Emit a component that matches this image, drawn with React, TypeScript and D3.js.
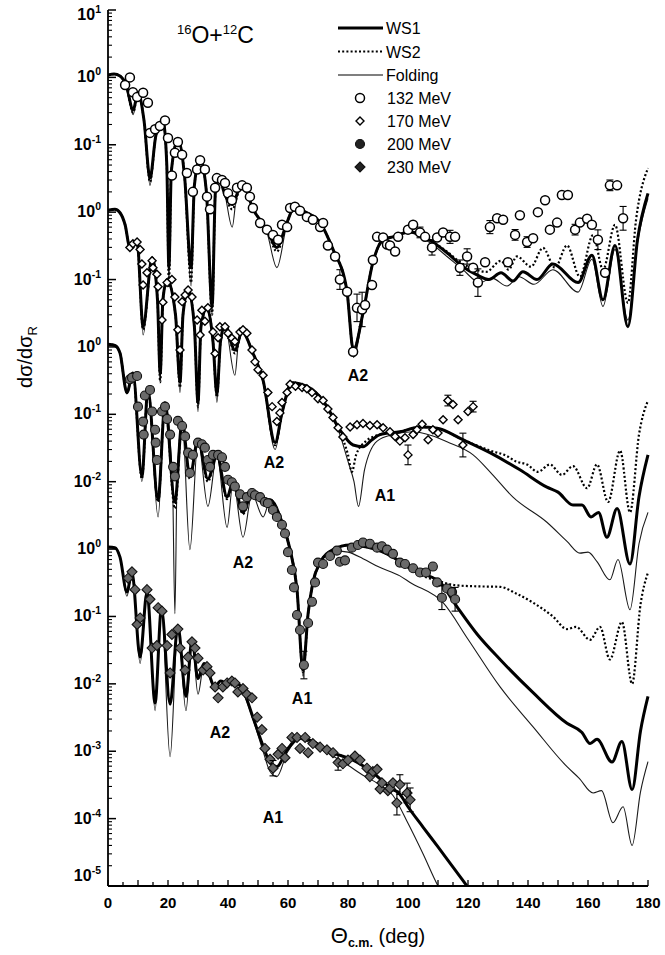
import React from "react";
import * as d3 from "d3";

type Pt = [number, number];
type Obs = number[];

// ---------- data (true dσ/dσR values; each energy is shifted by DECADE_SHIFTS when plotted) ----------
const ENERGY_LABELS = ["132 MeV", "170 MeV", "200 MeV", "230 MeV"];
const DECADE_SHIFTS = [0, -2, -4, -7];
const MODEL_LABELS = ["WS1", "WS2", "Folding"];
const Y_TICK_EXPONENTS = [1, 0, -1, 0, -1, 0, -1, -2, 0, -1, -2, -3, -4, -5];
const X_TICKS = [0, 20, 40, 60, 80, 100, 120, 140, 160, 180];

const WS1_132: Pt[] = [[0,1.08],[2,1.12],[4,1.05],[6,0.78],[8.4,0.33],[10,0.59],[12,0.23],[14,0.032],[16,0.14],[18.4,0.22],[19.6,0.05],[20.3,1.5e-3],[21.1,0.04],[23.3,0.12],[25.5,0.035],[27.7,1.5e-3],[28.8,0.025],[30.7,0.063],[32.8,0.02],[34.7,4e-4],[35.8,0.02],[36.9,0.033],[39,0.018],[41.4,0.013],[44.7,0.027],[48.4,0.011],[53,5.5e-3],[56.3,3e-3],[59.6,6.9e-3],[62,0.0115],[66.3,9.8e-3],[70.7,7e-3],[75,2.8e-3],[79.6,7e-4],[81.8,9e-5],[85,3.2e-4],[88.3,1.8e-3],[91.7,3.9e-3],[95,4.3e-3],[100.7,5.1e-3],[107,3.9e-3],[113,2.5e-3],[118.3,1.55e-3],[123,1.17e-3],[127,1.0e-3],[131,1.26e-3],[135,9.5e-4],[138.3,1.3e-3],[143,1.0e-3],[148.3,1.7e-3],[156.7,9e-4],[161.3,2.3e-3],[165,5e-4],[169,3.2e-3],[173.3,2e-4],[176.5,3.9e-3],[180,0.019]];
const WS2_132: Pt[] = [[0,1.08],[2,1.12],[4,1.05],[6,0.78],[8.4,0.3],[10,0.59],[12,0.23],[14,0.028],[16,0.14],[18.4,0.22],[19.6,0.05],[20.3,8e-4],[21.1,0.04],[23.3,0.12],[25.5,0.035],[27.7,9e-4],[28.8,0.025],[30.7,0.063],[32.8,0.02],[34.7,3e-4],[35.8,0.02],[36.9,0.033],[39,0.018],[41.4,0.011],[44.7,0.027],[48.4,0.011],[53,5.5e-3],[56.3,2.6e-3],[59.6,6.9e-3],[62,0.0115],[66.3,9.8e-3],[70.7,7e-3],[75,2.8e-3],[79.6,7e-4],[81.8,9e-5],[85,3.2e-4],[88.3,1.8e-3],[91.7,3.9e-3],[95,4.3e-3],[100.7,5.1e-3],[107,3.9e-3],[113,2.6e-3],[118.3,1.7e-3],[121,1.5e-3],[126,1.3e-3],[131,1.9e-3],[133.5,1.4e-3],[136.3,2.2e-3],[141,1.55e-3],[145,2.95e-3],[149,1.5e-3],[153,3.2e-3],[157.3,1.1e-3],[161.7,4.6e-3],[165,1.4e-3],[169,6.5e-3],[173.3,4.5e-4],[176,7.6e-3],[180,0.045]];
const FOLD_132: Pt[] = [[0,1.08],[2,1.12],[4,1.05],[6,0.78],[8.4,0.28],[10,0.59],[12,0.23],[14,0.025],[16,0.14],[18.4,0.22],[19.6,0.05],[20.3,9e-4],[21.1,0.04],[23.3,0.12],[25.5,0.035],[27.7,8e-4],[28.8,0.025],[30.7,0.063],[32.8,0.02],[34.7,3e-4],[35.8,0.02],[36.9,0.033],[39,0.018],[41.4,6e-3],[43,0.02],[44.7,0.027],[48.4,0.011],[53,5e-3],[56.3,1.5e-3],[59.6,6.5e-3],[62,0.011],[66.3,9.5e-3],[70.7,6.8e-3],[75,2.7e-3],[79.6,6.5e-4],[81.8,7e-5],[85,3e-4],[88.3,1.7e-3],[91.7,3.7e-3],[95,4.2e-3],[100.7,4.9e-3],[107,3.6e-3],[113,2.2e-3],[118.3,1.4e-3],[124,9e-4],[128,1.05e-3],[133,8e-4],[137,1.1e-3],[142,8.5e-4],[148.3,1.4e-3],[156.7,6.5e-4],[161.3,2e-3],[165,4e-4],[169,2.8e-3],[173.3,2.5e-4],[176.5,3.5e-3],[180,0.016]];

const WS1_170: Pt[] = [[0,1.07],[2.3,1.1],[4,0.98],[5.7,0.65],[7.3,0.3],[9.7,0.36],[11.7,0.02],[14.7,0.21],[16.5,0.05],[17.4,4e-3],[18.3,0.05],[19.7,0.1],[22.5,0.03],[24,3e-3],[25,0.03],[26.7,0.071],[28.8,0.02],[30,1.5e-3],[31,0.02],[33,0.038],[35,0.012],[36.3,2e-3],[37.5,0.012],[39,0.021],[42.3,9e-3],[44.7,0.0166],[48.3,8.1e-3],[51.7,3.2e-3],[55.7,3.8e-4],[58,1.05e-3],[61.3,2.95e-3],[66.3,2.6e-3],[71.7,1.6e-3],[77.3,5.9e-4],[81.7,3.5e-4],[85,3.3e-4],[88,4.2e-4],[90.7,5e-4],[97.3,5.5e-4],[104,6.5e-4],[109.7,6.2e-4],[118.3,4.2e-4],[127.3,2.7e-4],[137.3,1.5e-4],[146.3,8.3e-5],[150,7e-5],[155,4.5e-5],[158,4.5e-5],[161,3e-5],[163.5,3.5e-5],[166.3,1.5e-5],[169.7,4e-5],[174,6e-6],[177,6e-5],[180,2.5e-4]];
const WS2_170: Pt[] = [[0,1.07],[2.3,1.1],[4,0.98],[5.7,0.65],[7.3,0.3],[9.7,0.36],[11.7,0.018],[14.7,0.21],[16.5,0.05],[17.4,3e-3],[18.3,0.05],[19.7,0.1],[22.5,0.03],[24,2.5e-3],[25,0.03],[26.7,0.071],[28.8,0.02],[30,1.3e-3],[31,0.02],[33,0.038],[35,0.012],[36.3,1.8e-3],[37.5,0.012],[39,0.021],[42.3,8e-3],[44.7,0.0166],[48.3,8.1e-3],[51.7,3.2e-3],[55.7,3.5e-4],[58,1.05e-3],[61.3,2.95e-3],[66.3,2.6e-3],[71.7,1.6e-3],[77.3,5.5e-4],[80,2.5e-4],[81.3,1.4e-4],[82.7,2.5e-4],[86,4e-4],[90.7,5e-4],[97.3,5.5e-4],[104,6.5e-4],[109.7,6.2e-4],[118.3,4.2e-4],[127.3,2.9e-4],[133,2.4e-4],[136,2e-4],[139.7,1.8e-4],[143.3,1.4e-4],[147.3,1.8e-4],[151.3,1.26e-4],[155,1.7e-4],[159.7,8e-5],[163,1.8e-4],[166.7,5e-5],[170.7,2.9e-4],[174,3.5e-5],[177,5e-4],[180,1.6e-3]];
const FOLD_170: Pt[] = [[0,1.07],[2.3,1.1],[4,0.98],[5.7,0.65],[7.3,0.28],[9.7,0.36],[11.7,0.015],[14.7,0.21],[16.5,0.05],[17.4,3e-3],[18.3,0.05],[19.7,0.1],[22.5,0.03],[24,2.1e-3],[25,0.03],[26.7,0.071],[28.8,0.02],[30,1.1e-3],[31,0.02],[33,0.038],[35,0.012],[36.3,1.5e-3],[37.5,0.012],[39,0.021],[42.3,3.8e-3],[43.5,0.012],[44.7,0.0166],[48.3,8e-3],[51.7,3e-3],[55.7,3e-4],[58,1e-3],[61.3,2.9e-3],[66.3,2.5e-3],[71.7,1.5e-3],[77.3,5e-4],[80,2e-4],[82,1e-4],[83.5,4.3e-5],[85.5,1.5e-4],[89.7,4e-4],[95,5e-4],[101.7,5.5e-4],[108,4.8e-4],[113,3.9e-4],[121.7,2.5e-4],[128,1.3e-4],[135,5.9e-5],[146.3,2.5e-5],[153,1.3e-5],[157.3,8.7e-6],[160,9e-6],[163,6.5e-6],[167.3,3.5e-6],[170,7e-6],[174,1.26e-6],[177,1.2e-5],[180,3.5e-5]];

const WS1_200: Pt[] = [[0,1.1],[2.3,1.05],[4,0.81],[6.3,0.21],[8.3,0.41],[11.3,0.012],[13.3,0.23],[16.7,5.4e-3],[19,0.148],[22.3,5e-3],[24.7,0.078],[27.3,0.012],[30,0.042],[33.3,0.011],[36.3,0.025],[39.7,5.9e-3],[41.7,0.01],[45,3.5e-3],[48,6.7e-3],[51.7,4.9e-3],[54,5.4e-3],[58,2.5e-3],[60.7,9.8e-4],[63,2.5e-4],[65,1.6e-5],[66.7,1.1e-4],[68.3,3.2e-4],[70.7,6.3e-4],[75,9.8e-4],[80.7,1.15e-3],[86.3,1.07e-3],[95,7.6e-4],[99.7,5.5e-4],[105,4.3e-4],[110.7,3.2e-4],[116.3,1.4e-4],[123,5.5e-5],[130.7,2.3e-5],[141.7,7.4e-6],[153,2.6e-6],[158,1.9e-6],[160.7,1.3e-6],[163,1.5e-6],[168,6.9e-7],[171.3,1.4e-6],[174.7,2.7e-7],[177.5,2e-6],[180,6.5e-6]];
const WS2_200: Pt[] = [[0,1.1],[2.3,1.05],[4,0.81],[6.3,0.21],[8.3,0.41],[11.3,0.011],[13.3,0.23],[16.7,5e-3],[19,0.148],[22.3,4e-3],[24.7,0.078],[27.3,0.011],[30,0.042],[33.3,0.01],[36.3,0.025],[39.7,5.5e-3],[41.7,0.01],[45,3.3e-3],[48,6.7e-3],[51.7,4.9e-3],[54,5.4e-3],[58,2.5e-3],[60.7,9.8e-4],[63,2.5e-4],[65,1.5e-5],[66.7,1.1e-4],[68.3,3.2e-4],[70.7,6.3e-4],[75,9.8e-4],[80.7,1.15e-3],[86.3,1.07e-3],[95,7.6e-4],[99.7,5.5e-4],[105,4.0e-4],[110.7,3.3e-4],[116,2.9e-4],[123,2.8e-4],[130.7,2.75e-4],[136,2.2e-4],[141.7,1.6e-4],[148.3,1e-4],[153,6.5e-5],[156,7e-5],[160.7,4.5e-5],[164,7e-5],[167.3,2.3e-5],[171.3,8.3e-5],[174.7,1e-5],[177.5,1.5e-4],[180,4.5e-4]];
const FOLD_200: Pt[] = [[0,1.1],[2.3,1.05],[4,0.81],[6.3,0.2],[8.3,0.41],[11.3,0.01],[13.3,0.23],[16.7,3e-3],[19,0.148],[21.5,0.01],[22.3,1.1e-4],[23,0.01],[24.7,0.078],[27.3,9.8e-4],[30,0.042],[33.3,4.3e-3],[36.3,0.025],[39.7,2.1e-3],[41.7,0.01],[45,1.5e-3],[48,6.5e-3],[51.7,3e-3],[54,5.2e-3],[58,2.4e-3],[60.7,9e-4],[63,2.2e-4],[65,1.3e-5],[66.7,1e-4],[68.3,3e-4],[70.7,6e-4],[75,9.5e-4],[80,9e-4],[85,7.2e-4],[90,5.5e-4],[97.3,4e-4],[100.7,3.2e-4],[111.7,1.6e-4],[120,4.6e-5],[130.7,9e-6],[141.7,2.3e-6],[153,5.9e-7],[157,4e-7],[161.7,2.4e-7],[164.5,2.6e-7],[168.3,8.7e-8],[171.7,1.5e-7],[174.7,4e-8],[177.5,2.5e-7],[180,7e-7]];

const WS1_230: Pt[] = [[0,1.07],[2.3,1.05],[4,0.76],[6.3,0.23],[8,0.45],[10.7,0.025],[13,0.23],[15.7,5.2e-3],[17.8,0.13],[20.7,5e-3],[23.3,0.071],[26,6.5e-3],[28,0.045],[30,0.012],[32,0.02],[35.7,9e-3],[37.5,0.011],[39.7,0.0103],[41.7,0.011],[45,8.1e-3],[48.3,3.2e-3],[51.7,1.2e-3],[54,6.8e-4],[56.3,5.9e-4],[59.7,1.05e-3],[64,1.6e-3],[69.7,1.3e-3],[75,9.5e-4],[81.7,7.4e-4],[88.3,4.8e-4],[94,2.9e-4],[97.3,2.3e-4],[100,1.5e-4],[105,7.5e-5],[110,3.8e-5],[115,1.9e-5],[120,9.5e-6],[122,7e-6]];
const FOLD_230: Pt[] = [[0,1.07],[2.3,1.05],[4,0.76],[6.3,0.2],[8,0.45],[10.7,0.02],[13,0.23],[15.7,4e-3],[17.8,0.13],[20.7,8.3e-4],[23.3,0.071],[26,4e-3],[28,0.045],[30,7e-3],[32,0.02],[35.7,8e-3],[37.5,0.011],[39.7,0.01],[41.7,0.011],[45,7.5e-3],[48.3,3e-3],[51.7,1e-3],[54,5e-4],[56.3,4.2e-4],[59.7,9.5e-4],[64,1.5e-3],[70,1.15e-3],[75,8.5e-4],[80,6.2e-4],[85,4.4e-4],[90,3.3e-4],[95,2.2e-4],[100,8.5e-5],[105,3e-5],[110,1e-5],[112,7e-6]];

// measured points: [angle, value, optional error factor]
const DATA_132: Obs[] = [[5.7,0.77],[7.3,1.0],[8.3,0.6],[9.7,0.51],[11.7,0.59],[13.3,0.42],[14,0.15],[15.7,0.17],[17.3,0.19],[19,0.23],[20,0.126],[21.3,0.035],[22.3,0.076],[23.3,0.11],[24.7,0.071],[26.3,0.038],[28.3,0.02],[29.7,0.043],[30.7,0.059],[32.3,0.043],[33,0.017],[34,0.011],[35.7,0.023],[36.3,0.032],[38,0.03],[39,0.027],[40,0.019],[41.3,0.015],[43,0.023],[44.7,0.025],[46.3,0.023],[47.3,0.017],[48.3,0.0115],[50.7,6.9e-3],[53,5.5e-3],[55,4.6e-3],[56.7,3.9e-3],[58,6.5e-3],[59.7,6e-3],[60.7,0.0115],[62.3,0.012],[64,0.0105],[66.3,8.5e-3],[68.3,7.7e-3],[70.7,6e-3],[71.7,6.9e-3],[73.3,3.2e-3],[75.7,2.2e-3],[77.3,1e-3,1.4],[79.7,6.6e-4],[81.7,8.5e-5],[83,3.8e-4,1.6],[84.7,3.6e-4,1.8],[85.7,4.2e-4],[88,8.3e-4],[88.3,1.95e-3],[89.7,4.3e-3],[91.7,4.2e-3],[93,3.3e-3],[94,3.2e-3],[95.7,2.6e-3],[96.7,4.3e-3],[100,5.5e-3],[101.7,6.5e-3],[104,5e-3,1.2],[105.7,4.3e-3],[108,3e-3,1.3],[109.7,4.2e-3],[111.7,5e-3],[114,4.3e-3,1.25],[115.7,4.3e-3],[117.3,1.5e-3,1.3],[119.7,2.2e-3,1.3],[121.7,1.5e-3],[123.3,9e-4,1.6],[125.7,1.8e-3],[127.3,6e-3,1.25],[129.7,8.1e-3],[131.7,7.7e-3],[133.3,1.8e-3],[135.7,4.6e-3,1.2],[137.3,9e-3],[139.7,3.6e-3,1.2],[141.7,4.1e-3],[143.3,0.01],[145.7,0.015],[147.3,5.5e-3],[149.7,7e-3],[151.3,0.018],[153.3,0.018],[155.7,5.5e-3,1.2],[157.3,7e-3],[159.7,8e-3],[161.3,6.5e-3],[163.3,3.9e-3,1.4],[165.7,1.26e-3],[167.3,0.025,1.2],[169.7,0.025],[171.7,8.1e-3,1.5]];
const DATA_170: Obs[] = [[7.3,0.3],[8.3,0.34],[9.7,0.36],[10.7,0.28],[11.3,0.17],[11.7,0.083],[13,0.126],[14.7,0.19],[15,0.15],[16.3,0.12],[16.7,0.078],[18,0.025],[18.3,0.046],[19.7,0.09],[21.3,0.1],[22.3,0.055],[23.3,0.018],[24,9e-3],[24.7,0.047],[25.7,0.059],[26.7,0.07],[28,0.055],[29.7,0.025],[30.7,0.015],[31.3,0.035],[32.3,0.024],[33.3,0.038],[35,0.0166],[35.7,8e-3],[36.7,0.0137],[37.3,0.02],[39,0.02],[40,0.016],[41.3,0.0135],[42.3,0.012],[44,0.0166],[45,0.018],[46.3,0.016],[48,9e-3],[49,6e-3],[50,4.6e-3],[51.7,3.8e-3],[53.3,2.1e-3],[54.7,1.3e-3],[56.3,7.8e-4],[57.3,1.05e-3],[58,1.5e-3],[59.7,2.1e-3],[60.7,2.8e-3],[62.5,2.6e-3],[64.7,2.5e-3],[66.3,2.4e-3],[68,2.1e-3],[70,1.7e-3],[71.7,1.6e-3],[73.3,1.2e-3],[75,9e-4],[76.7,6.3e-4],[78.3,4.6e-4],[80.7,6.5e-4],[83,7e-4],[85,7.3e-4],[87.3,6.8e-4],[89.7,7e-4],[91.7,6.3e-4],[94,5.5e-4],[95.7,4.7e-4],[97.3,4e-4],[99,4.5e-4],[100,2.5e-4,1.4],[101.7,5e-4],[103,5.9e-4],[104.7,7.1e-4],[106.7,4.2e-4],[108.3,5.9e-4],[110,5.3e-4],[111.7,8.3e-4],[113.3,1.6e-3,1.2],[115,1.4e-3],[116.7,8.3e-4],[118.3,3.5e-4,1.5],[120,1.1e-3],[121.7,1.3e-3,1.2]];
const DATA_200: Obs[] = [[7.3,0.33],[8,0.35],[9.7,0.37],[10,0.13],[11.7,0.078],[11.9,0.05],[12.3,0.19],[14,0.23],[14.7,0.11],[15.7,0.059],[15.9,0.038],[16.3,0.021],[18,0.11],[19,0.13],[19.7,0.085],[20.7,0.05],[21.7,0.0166],[22.3,0.012],[23.3,0.08],[24.7,0.067],[25.7,0.047],[26.7,0.027],[27.3,0.0135],[28.3,0.025],[30,0.038],[31.3,0.036],[32.3,0.032],[33.3,0.021],[34,0.0166],[35,0.025],[36.7,0.025],[38,0.023],[39,0.0166],[40,0.0107],[41.3,9.8e-3],[42.3,8.5e-3],[44,6.5e-3],[45,4.3e-3],[46.3,5.9e-3],[48,6.8e-3],[49,6.3e-3],[50.7,5.9e-3],[52.3,5e-3],[53.3,4.8e-3],[55,3.8e-3],[56.3,3e-3],[58,2.3e-3],[59,1.7e-3],[60,9e-4],[61.3,4.9e-4],[62,2.7e-4],[63,1.05e-4],[64,6.3e-5],[65.3,1.9e-5,1.6],[66.7,8e-5],[68,1.65e-4],[69,3.2e-4],[70,6.3e-4],[71.7,6e-4],[74,7.9e-4],[76.3,9.5e-4],[77.3,6.5e-4],[79,6.8e-4],[81.3,1.05e-3],[83.3,1.15e-3],[85,1.25e-3],[87.3,1.2e-3],[89.7,1.05e-3],[91.3,1.1e-3],[93,9.8e-4],[95,8.5e-4],[97.3,6.3e-4],[99,6e-4],[101.7,5.2e-4],[104,4.5e-4],[106,4.5e-4],[108.3,5.5e-4],[109.7,3.2e-4],[111.3,1.9e-4,1.5],[113,2.6e-4],[114.7,2.3e-4],[115.7,1.8e-4,1.5]];
const DATA_230: Obs[] = [[6.7,0.37],[8,0.46],[9,0.25],[9.7,0.076],[10.7,0.095],[13,0.25],[14,0.18],[14.7,0.034],[16.3,0.037],[16.7,0.135],[18,0.12],[19.7,0.037],[20.7,0.0145],[21.3,0.054],[23.3,0.065],[24,0.034],[25.7,0.016],[26.7,0.025],[28,0.042],[29,0.034],[30,0.024],[31.7,0.016],[33,0.018],[34,0.0145],[35.7,9e-3],[36.7,6.2e-3],[38.3,9e-3],[39.7,0.0103],[41.3,0.011],[42.3,0.0103],[43.3,7.6e-3],[45,8.5e-3],[46.3,7e-3],[48,6.2e-3],[49.7,3.2e-3],[51.3,2.1e-3],[52.3,1.1e-3],[54,7.6e-4],[55,5.6e-4,1.3],[56.7,9e-4],[58,1.1e-3],[59,8e-4],[61.3,1.6e-3],[63,1.6e-3],[64,1.1e-3],[65.7,1.6e-3],[66.7,9.5e-4],[68.3,1.3e-3],[70.7,1.15e-3],[73,1.05e-3],[75,9.5e-4],[76.7,6.8e-4,1.3],[78.3,6.5e-4],[80,7.4e-4],[82.3,8.5e-4],[84,7.4e-4],[86.3,5.6e-4],[87.3,4.2e-4],[88.3,5e-4],[89.7,5.4e-4],[90.7,2.75e-4],[91.3,3.4e-4],[93.3,2.6e-4],[94,2.8e-4],[95,3.4e-4],[96.3,1.7e-4,1.5],[97.3,3.2e-4,1.4],[99.7,2.4e-4,1.4],[100.7,1.9e-4,1.5]];

// annotation labels: [text, energy index, angle, value]
const ANNOTATIONS: [string, number, number, number][] = [
  ["A2", 0, 83.3, 3.85e-5],
  ["A2", 1, 55.3, 1.95e-4],
  ["A1", 1, 92.3, 6.3e-5],
  ["A2", 2, 45, 6.5e-4],
  ["A1", 2, 64.7, 6.2e-6],
  ["A2", 3, 37.3, 1.95e-3],
  ["A1", 3, 55, 1.07e-4],
];

const WS1 = [WS1_132, WS1_170, WS1_200, WS1_230];
const WS2 = [WS2_132, WS2_170, WS2_200, null];
const FOLD = [FOLD_132, FOLD_170, FOLD_200, FOLD_230];
const DATA = [DATA_132, DATA_170, DATA_200, DATA_230];

// ---------- layout ----------
const W = 665, H = 955;
const PL = 108, PR = 648, PT = 10, PB = 886;
const FONT = "'Liberation Sans', Arial, Helvetica, sans-serif";

function Marker({ kind, cx, cy, legend = false }: { kind: number; cx: number; cy: number; legend?: boolean }) {
  if (kind === 0) return <circle cx={cx} cy={cy} r={4.5} fill="#fff" stroke="#000" strokeWidth={1.5} />;
  if (kind === 1) {
    const s = 4;
    return <path d={`M${cx},${cy - s}L${cx + s},${cy}L${cx},${cy + s}L${cx - s},${cy}Z`} fill="#fff" stroke="#000" strokeWidth={1.4} />;
  }
  if (kind === 2) return <circle cx={cx} cy={cy} r={4.5} fill={legend ? "#222" : "#6a6a6a"} stroke="#111" strokeWidth={1.1} />;
  const s = 5;
  return <path d={`M${cx},${cy - s}L${cx + s},${cy}L${cx},${cy + s}L${cx - s},${cy}Z`} fill={legend ? "#222" : "#666"} stroke="#111" strokeWidth={1.1} />;
}

export default function App() {
  const x = d3.scaleLinear().domain([0, 180]).range([PL, PR]);
  const y = d3.scaleLog().domain([1e-12, 10]).range([PB, PT]);
  const yv = (v: number) => y(Math.max(v, 1e-14));

  const lineFor = (f: number) =>
    d3.line<Pt>().x((d) => x(d[0])).y((d) => yv(d[1] * f)).curve(d3.curveMonotoneX);

  const majorY: number[] = d3.range(-12, 2).map((k) => Math.pow(10, k));
  const minorY: number[] = [];
  for (let k = -12; k < 1; k++) for (let m = 2; m <= 9; m++) minorY.push(m * Math.pow(10, k));
  const xTicksAll = d3.range(0, 181, 5);

  return (
    <svg width={W} height={H} style={{ position: "absolute", left: 0, top: 0, background: "#fff" }} fontFamily={FONT}>
      <defs>
        <clipPath id="plotclip">
          <rect x={PL} y={PT - 2} width={PR - PL + 2} height={PB - PT + 2} />
        </clipPath>
      </defs>
      <rect x={0} y={0} width={W} height={H} fill="#fff" />

      {/* curves */}
      <g clipPath="url(#plotclip)" fill="none">
        {FOLD.map((s, i) => (
          <path key={"f" + i} d={lineFor(Math.pow(10, DECADE_SHIFTS[i]))(s) || ""} stroke="#1a1a1a" strokeWidth={1.1} />
        ))}
        {WS2.map((s, i) =>
          s ? (
            <path key={"w2" + i} d={lineFor(Math.pow(10, DECADE_SHIFTS[i]))(s) || ""} stroke="#000" strokeWidth={2.2} strokeDasharray="2 2.2" />
          ) : null
        )}
        {WS1.map((s, i) => (
          <path key={"w1" + i} d={lineFor(Math.pow(10, DECADE_SHIFTS[i]))(s) || ""} stroke="#000" strokeWidth={3} strokeLinejoin="round" />
        ))}
      </g>

      {/* data points */}
      <g>
        {DATA.map((pts, i) => {
          const f = Math.pow(10, DECADE_SHIFTS[i]);
          return (
            <g key={"d" + i}>
              {pts.map((p, j) => {
                const cx = x(p[0]);
                const cy = yv(p[1] * f);
                const e = p[2];
                return (
                  <g key={j}>
                    {e ? (
                      <g stroke="#000" strokeWidth={1.1}>
                        <line x1={cx} x2={cx} y1={yv((p[1] * f) / e)} y2={yv(p[1] * f * e)} />
                        <line x1={cx - 3.5} x2={cx + 3.5} y1={yv((p[1] * f) / e)} y2={yv((p[1] * f) / e)} />
                        <line x1={cx - 3.5} x2={cx + 3.5} y1={yv(p[1] * f * e)} y2={yv(p[1] * f * e)} />
                      </g>
                    ) : null}
                    <Marker kind={i} cx={cx} cy={cy} />
                  </g>
                );
              })}
            </g>
          );
        })}
      </g>

      {/* annotations */}
      {ANNOTATIONS.map(([t, i, a, v], k) => (
        <text key={"a" + k} x={x(a)} y={yv(v * Math.pow(10, DECADE_SHIFTS[i])) + 6} textAnchor="middle" fontSize={16} fontWeight="bold">
          {t}
        </text>
      ))}

      {/* axes */}
      <g stroke="#000">
        <line x1={PL} x2={PL} y1={PT} y2={PB} strokeWidth={1.8} />
        <line x1={PL} x2={PR} y1={PB} y2={PB} strokeWidth={1.8} />
        {majorY.map((v, k) => (
          <line key={"My" + k} x1={PL} x2={PL + 8} y1={y(v)} y2={y(v)} strokeWidth={1.5} />
        ))}
        {minorY.map((v, k) => (
          <line key={"my" + k} x1={PL} x2={PL + 4} y1={y(v)} y2={y(v)} strokeWidth={1.1} />
        ))}
        {xTicksAll.map((t) => (
          <line key={"xt" + t} x1={x(t)} x2={x(t)} y1={PB} y2={PB - (t % 10 === 0 ? 6 : 4)} strokeWidth={1.3} />
        ))}
      </g>

      {/* y tick labels */}
      {Y_TICK_EXPONENTS.map((ex, i) => {
        const v = Math.pow(10, 1 - i);
        const cy = Math.min(Math.max(y(v), 15), 876);
        return (
          <text key={"yl" + i} x={101} y={cy + 5} textAnchor="end" fontSize={16} fontWeight="bold">
            10
            <tspan dy={-7} fontSize={10.5}>
              {String(ex)}
            </tspan>
          </text>
        );
      })}

      {/* x tick labels */}
      {X_TICKS.map((t) => (
        <text key={"xl" + t} x={x(t)} y={908} textAnchor="middle" fontSize={15} fontWeight="bold">
          {t}
        </text>
      ))}

      {/* axis titles */}
      <text x={378} y={943} textAnchor="middle" fontSize={22}>
        Θ
        <tspan fontSize={12.5} fontWeight="bold" dy={4}>
          c.m.
        </tspan>
        <tspan dy={-4} fontSize={20}>
          {" (deg)"}
        </tspan>
      </text>
      <text transform="translate(32,357) rotate(-90)" textAnchor="middle" fontSize={20}>
        dσ/dσ
        <tspan fontSize={13} dy={5}>
          R
        </tspan>
      </text>

      {/* reaction title */}
      <text x={177} y={43} fontSize={23}>
        <tspan fontSize={13} dy={-9}>16</tspan>
        <tspan dy={9}>O+</tspan>
        <tspan fontSize={13} dy={-9}>12</tspan>
        <tspan dy={9}>C</tspan>
      </text>

      {/* legend */}
      <g fontSize={16}>
        {MODEL_LABELS.map((m, k) => {
          const ly = 28 + k * 23.5;
          return (
            <g key={"lm" + k}>
              <line
                x1={338}
                x2={383}
                y1={ly}
                y2={ly}
                stroke="#000"
                strokeWidth={k === 0 ? 3 : k === 1 ? 2.2 : 1.2}
                strokeDasharray={k === 1 ? "2 2.2" : undefined}
              />
              <text x={386} y={ly + 6}>{m}</text>
            </g>
          );
        })}
        {ENERGY_LABELS.map((e, k) => {
          const ly = 98 + k * 23;
          return (
            <g key={"le" + k}>
              <Marker kind={k} cx={360} cy={ly} legend />
              <text x={387} y={ly + 6}>{e}</text>
            </g>
          );
        })}
      </g>
    </svg>
  );
}
